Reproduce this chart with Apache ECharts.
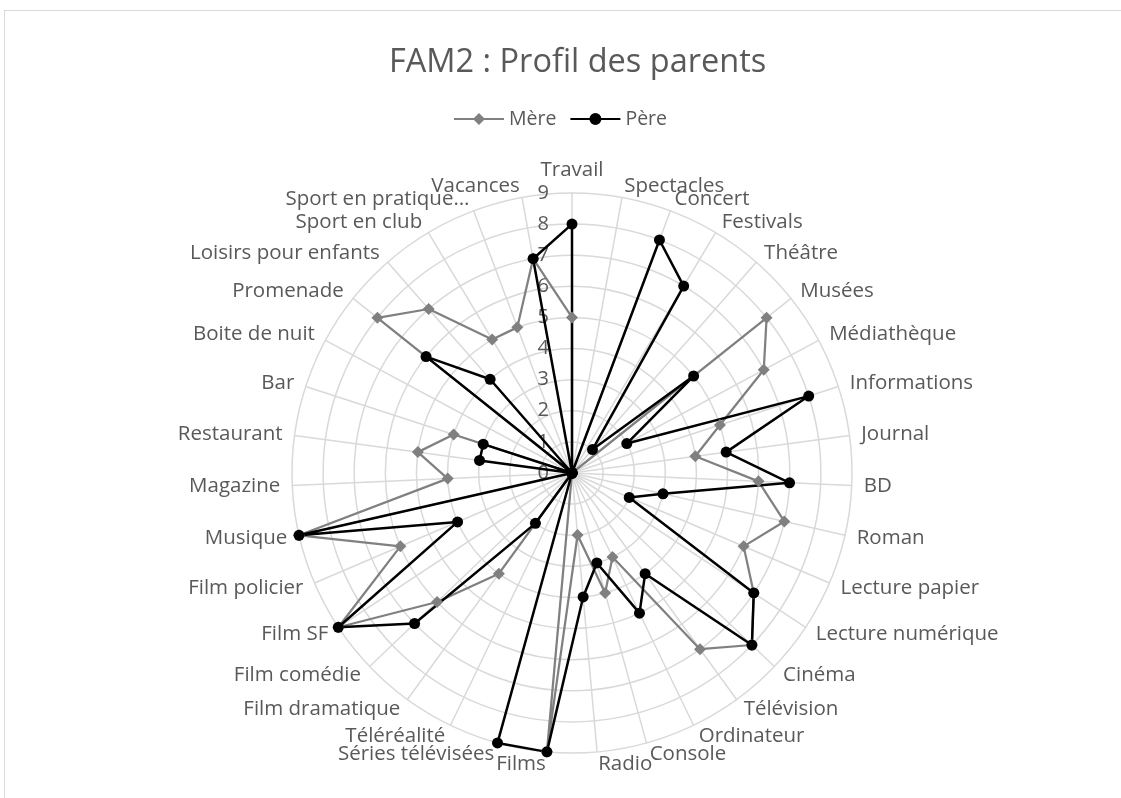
<!DOCTYPE html>
<html>
<head>
<meta charset="utf-8">
<script src="https://cdn.jsdelivr.net/npm/echarts@6/dist/echarts.min.js"></script>
<style>
  html, body { margin: 0; padding: 0; background: #fff; }
  #frame { position: absolute; left: 4px; top: 10px; width: 1200px; height: 900px; border: 1px solid #d9d9d9; }
  #chart { position: absolute; left: 0; top: 0; width: 1121px; height: 798px; }
</style>
</head>
<body>
<div id="frame"></div>
<div id="chart"></div>
<script>
// categories, clockwise from the top (as in the original chart)
const categories = ['Travail', 'Spectacles', 'Concert', 'Festivals', 'Théâtre', 'Musées', 'Médiathèque',
  'Informations', 'Journal', 'BD', 'Roman', 'Lecture papier', 'Lecture numérique', 'Cinéma', 'Télévision',
  'Ordinateur', 'Console', 'Radio', 'Films', 'Séries télévisées', 'Téléréalité', 'Film dramatique',
  'Film comédie', 'Film SF', 'Film policier', 'Musique', 'Magazine', 'Restaurant', 'Bar', 'Boite de nuit',
  'Promenade', 'Loisirs pour enfants', 'Sport en club', 'Sport en pratique…', 'Vacances'];
const mere = [5, 0, 0, 0, 0, 8, 7, 5, 4, 6, 7, 6, 7, 8, 7, 3, 4, 2, 9, 0, 0, 4, 6, 9, 6, 9, 4, 5, 4, 0, 8, 7, 5, 5, 7];
const pere = [8, 0, 8, 7, 1, 5, 2, 8, 5, 7, 3, 2, 7, 8, 4, 5, 3, 4, 9, 9, 0, 2, 7, 9, 4, 9, 0, 3, 3, 0, 6, 4, 0, 0, 7];
const axisMax = 9;

// echarts lays radar indicators counter-clockwise: keep the first, reverse the rest
const order = [0].concat(categories.map((c, i) => i).slice(1).reverse());
const indicator = order.map((i, k) => {
  const ind = {name: categories[i], min: 0, max: axisMax};
  if (k === 0) ind.axisLabel = {show: true};
  return ind;
});

const txt = '#595959';
const font = '"Open Sans", sans-serif';

const chart = echarts.init(document.getElementById('chart'));
chart.setOption({
  animation: false,
  backgroundColor: 'transparent',
  textStyle: {fontFamily: font},
  title: {
    text: 'FAM2 : Profil des parents',
    left: 384,
    top: 41,
    textStyle: {color: txt, fontSize: 32.5, fontWeight: 'normal', fontFamily: font}
  },
  legend: {
    top: 104,
    left: 'center',
    itemWidth: 50,
    itemHeight: 12,
    itemGap: 14,
    textStyle: {color: txt, fontSize: 19.5, fontFamily: font},
    data: [
      {name: 'Mère', icon: 'path://M0,5 L50,5 L50,7 L0,7 Z M25,0 L31,6 L25,12 L19,6 Z', itemStyle: {color: '#808080'}},
      {name: 'Père', icon: 'path://M0,5 L50,5 L50,7 L0,7 Z M19,6 A6,6 0 1,1 31,6 A6,6 0 1,1 19,6 Z', itemStyle: {color: '#000'}}
    ]
  },
  radar: {
    center: [572, 473],
    radius: 280,
    startAngle: 90,
    shape: 'circle',
    splitNumber: axisMax,
    indicator: indicator,
    nameGap: 12,
    axisName: {color: txt, fontSize: 20.5, fontFamily: font},
    axisLine: {lineStyle: {color: '#d9d9d9', width: 1.5}},
    splitLine: {lineStyle: {color: '#d9d9d9', width: 1.5}},
    splitArea: {show: false},
    axisTick: {show: false},
    axisLabel: {show: false, color: txt, fontSize: 20, fontFamily: font, margin: 23}
  },
  series: [{
    type: 'radar',
    data: [
      {
        name: 'Mère',
        value: order.map(i => mere[i]),
        symbol: 'diamond',
        symbolSize: [12, 12],
        lineStyle: {color: '#808080', width: 2.25},
        itemStyle: {color: '#808080'}
      },
      {
        name: 'Père',
        value: order.map(i => pere[i]),
        symbol: 'circle',
        symbolSize: 11,
        lineStyle: {color: '#000', width: 2.5},
        itemStyle: {color: '#000'}
      }
    ]
  }]
});
</script>
</body>
</html>
